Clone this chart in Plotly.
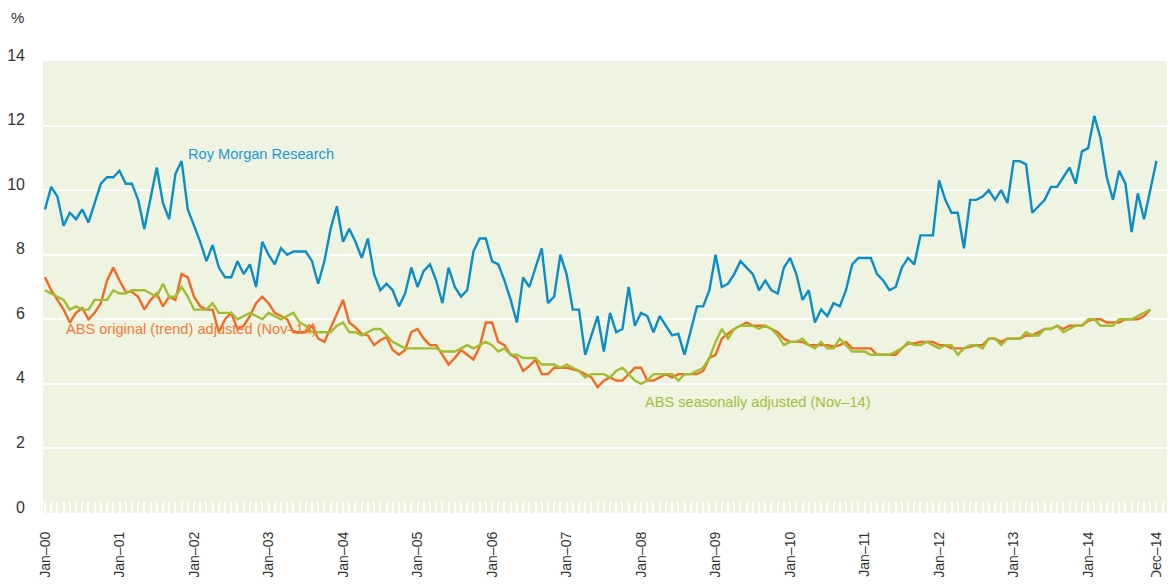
import plotly.graph_objects as go

# ---- data (monthly, Jan-2000 .. Dec-2014) ----
year_labels = ["Jan–00", "Jan–01", "Jan–02", "Jan–03", "Jan–04", "Jan–05", "Jan–06", "Jan–07",
               "Jan–08", "Jan–09", "Jan–10", "Jan–11", "Jan–12", "Jan–13", "Jan–14", "Dec–14"]
year_month_index = [0, 12, 24, 36, 48, 60, 72, 84, 96, 108, 120, 132, 144, 156, 168, 179]

roy_morgan = [
    9.4, 10.1, 9.8, 8.9, 9.3, 9.1, 9.4, 9.0, 9.6, 10.2, 10.4, 10.4,
    10.6, 10.2, 10.2, 9.7, 8.8, 9.7, 10.7, 9.6, 9.1, 10.5, 10.9, 9.4,
    8.9, 8.4, 7.8, 8.3, 7.6, 7.3, 7.3, 7.8, 7.4, 7.7, 7.0, 8.4,
    8.0, 7.7, 8.2, 8.0, 8.1, 8.1, 8.1, 7.8, 7.1, 7.8, 8.8, 9.5,
    8.4, 8.8, 8.4, 7.9, 8.5, 7.4, 6.9, 7.1, 6.9, 6.4, 6.8, 7.6,
    7.0, 7.5, 7.7, 7.2, 6.5, 7.6, 7.0, 6.7, 6.9, 8.1, 8.5, 8.5,
    7.8, 7.7, 7.2, 6.6, 5.9, 7.3, 7.0, 7.6, 8.2, 6.5, 6.7, 8.0,
    7.4, 6.3, 6.3, 4.9, 5.5, 6.1, 5.0, 6.2, 5.6, 5.7, 7.0, 5.8,
    6.2, 6.1, 5.6, 6.1, 5.8, 5.5, 5.55, 4.9, 5.65, 6.4, 6.4, 6.9,
    8.0, 7.0, 7.1, 7.4, 7.8, 7.6, 7.4, 6.9, 7.2, 6.9, 6.8, 7.6,
    7.9, 7.4, 6.6, 6.9, 5.9, 6.3, 6.1, 6.5, 6.4, 6.9, 7.7, 7.9,
    7.9, 7.9, 7.4, 7.2, 6.9, 7.0, 7.6, 7.9, 7.7, 8.6, 8.6, 8.6,
    10.3, 9.7, 9.3, 9.3, 8.2, 9.7, 9.7, 9.8, 10.0, 9.7, 10.0, 9.6,
    10.9, 10.9, 10.8, 9.3, 9.5, 9.7, 10.1, 10.1, 10.4, 10.7, 10.2, 11.2,
    11.3, 12.3, 11.6, 10.4, 9.7, 10.6, 10.2, 8.7, 9.9, 9.1, 10.0, 10.9,
]

abs_trend = [
    7.3, 6.9, 6.6, 6.3, 5.9, 6.2, 6.35, 6.0, 6.2, 6.5, 7.2, 7.6,
    7.2, 6.85, 6.85, 6.7, 6.3, 6.6, 6.8, 6.4, 6.7, 6.6, 7.4, 7.3,
    6.7, 6.4, 6.3, 6.3, 5.6, 6.0, 6.2, 5.7, 5.8, 6.1, 6.5, 6.7,
    6.5, 6.2, 6.1, 6.0, 5.6, 5.6, 5.6, 5.8, 5.4, 5.3, 5.75, 6.2,
    6.6, 5.9, 5.75, 5.55, 5.5, 5.2, 5.35, 5.45, 5.05, 4.9, 5.05, 5.6,
    5.7, 5.4, 5.2, 5.2, 4.9, 4.6, 4.8, 5.05, 4.9, 4.75, 5.15, 5.9,
    5.9, 5.3, 5.2, 4.9, 4.8, 4.4, 4.55, 4.75, 4.3, 4.3, 4.5, 4.5,
    4.5, 4.45, 4.4, 4.3, 4.2, 3.9, 4.1, 4.2, 4.1, 4.1, 4.3, 4.5,
    4.5, 4.1, 4.1, 4.2, 4.3, 4.2, 4.3, 4.3, 4.3, 4.3, 4.4, 4.8,
    4.9, 5.4, 5.55, 5.7, 5.8, 5.9, 5.8, 5.8, 5.8, 5.7, 5.6, 5.4,
    5.3, 5.3, 5.3, 5.2, 5.2, 5.2, 5.2, 5.15, 5.2, 5.3, 5.1, 5.1,
    5.1, 5.1, 4.9, 4.9, 4.9, 4.9, 5.1, 5.25, 5.25, 5.3, 5.3, 5.3,
    5.2, 5.2, 5.1, 5.1, 5.1, 5.15, 5.2, 5.2, 5.4, 5.4, 5.3, 5.4,
    5.4, 5.4, 5.5, 5.5, 5.6, 5.7, 5.7, 5.8, 5.7, 5.8, 5.8, 5.8,
    5.95, 6.0, 6.0, 5.9, 5.9, 5.9, 6.0, 6.0, 6.0, 6.1, 6.3,
]

abs_seasonal = [
    6.9, 6.8, 6.7, 6.6, 6.3, 6.4, 6.3, 6.3, 6.6, 6.6, 6.6, 6.9,
    6.8, 6.8, 6.9, 6.9, 6.9, 6.8, 6.7, 7.1, 6.7, 6.7, 7.0, 6.7,
    6.3, 6.3, 6.3, 6.5, 6.2, 6.2, 6.2, 6.0, 6.1, 6.2, 6.1, 6.0,
    6.2, 6.1, 6.0, 6.1, 6.2, 5.9, 5.8, 5.6, 5.6, 5.6, 5.6, 5.8,
    5.9, 5.6, 5.6, 5.5, 5.6, 5.7, 5.7, 5.5, 5.3, 5.2, 5.1, 5.1,
    5.1, 5.1, 5.1, 5.1, 5.0, 5.0, 5.0, 5.1, 5.2, 5.1, 5.2, 5.3,
    5.2, 5.0, 5.1, 4.9, 4.9, 4.8, 4.8, 4.8, 4.6, 4.6, 4.6, 4.5,
    4.6, 4.5, 4.4, 4.2, 4.3, 4.3, 4.3, 4.2, 4.4, 4.5, 4.3, 4.1,
    4.0, 4.1, 4.3, 4.3, 4.3, 4.3, 4.1, 4.3, 4.3, 4.4, 4.5, 4.8,
    5.3, 5.7, 5.4, 5.7, 5.8, 5.8, 5.8, 5.7, 5.8, 5.7, 5.5, 5.2,
    5.3, 5.3, 5.4, 5.2, 5.1, 5.3, 5.1, 5.1, 5.4, 5.2, 5.0, 5.0,
    5.0, 4.9, 4.9, 4.9, 4.9, 5.0, 5.1, 5.3, 5.2, 5.2, 5.3, 5.2,
    5.1, 5.2, 5.2, 4.9, 5.1, 5.2, 5.2, 5.1, 5.4, 5.4, 5.2, 5.4,
    5.4, 5.4, 5.6, 5.5, 5.5, 5.7, 5.7, 5.8, 5.6, 5.7, 5.8, 5.8,
    6.0, 6.0, 5.8, 5.8, 5.8, 6.0, 6.0, 6.0, 6.1, 6.2, 6.3,
]

y_ticks = [0, 2, 4, 6, 8, 10, 12, 14]

BLUE = "#0b8dc6"
ORANGE = "#f26a21"
GREEN = "#a2bd30"
FONT = "Liberation Sans, Arial, sans-serif"

fig = go.Figure()
fig.add_trace(go.Scatter(x=list(range(len(roy_morgan))), y=roy_morgan, mode="lines",
                         line=dict(color=BLUE, width=2.4), name="Roy Morgan Research"))
fig.add_trace(go.Scatter(x=list(range(len(abs_trend))), y=abs_trend, mode="lines",
                         line=dict(color=ORANGE, width=2.4), name="ABS original (trend) adjusted (Nov–14)"))
fig.add_trace(go.Scatter(x=list(range(len(abs_seasonal))), y=abs_seasonal, mode="lines",
                         line=dict(color=GREEN, width=2.4), name="ABS seasonally adjusted (Nov–14)"))

# the page body keeps its default 8px margin, so the figure is sized to fit inside the window
fig.update_layout(
    width=1159, height=569,
    margin=dict(l=35, r=0, t=53, b=64),
    paper_bgcolor="white",
    plot_bgcolor="#eff3e2",
    showlegend=False,
    font=dict(family=FONT, size=15, color="#333333"),
    xaxis=dict(
        range=[-0.32, 180.7],
        automargin=False,
        tickmode="array", tickvals=year_month_index, ticktext=year_labels,
        tickangle=-90,
        ticks="inside", ticklen=11, tickwidth=1.5, tickcolor="white",
        minor=dict(ticks="inside", dtick=1, tick0=0, ticklen=11, tickwidth=1.5, tickcolor="white"),
        showgrid=False, zeroline=False, showline=False,
        tickfont=dict(family=FONT, size=14, color="#333333"),
        ticklabelstandoff=15,
        ticklabeloverflow="allow",
    ),
    yaxis=dict(
        range=[0, 14],
        automargin=False,
        tickmode="array", tickvals=y_ticks,
        showgrid=True, gridcolor="white", gridwidth=2,
        zeroline=False, showline=False, ticks="",
        tickfont=dict(family=FONT, size=16, color="#333333"),
        ticklabelshift=-6, ticklabelstandoff=17,
    ),
)

fig.add_annotation(x=22.7, y=11.12, xref="x", yref="y", text="Roy Morgan Research",
                   showarrow=False, xanchor="left", yanchor="middle",
                   font=dict(family=FONT, size=14.6, color="#1899d3"))
fig.add_annotation(x=3.06, y=5.7, xref="x", yref="y", text="ABS original (trend) adjusted (Nov–14)",
                   showarrow=False, xanchor="left", yanchor="middle",
                   font=dict(family=FONT, size=14.6, color="#f47a35"))
fig.add_annotation(x=96.3, y=3.44, xref="x", yref="y", text="ABS seasonally adjusted (Nov–14)",
                   showarrow=False, xanchor="left", yanchor="middle",
                   font=dict(family=FONT, size=14.6, color="#a3bf36"))
fig.add_annotation(x=-0.023, y=1.097, xref="paper", yref="paper", text="%",
                   showarrow=False, xanchor="center", yanchor="middle",
                   font=dict(family=FONT, size=15, color="#333333"))

fig.write_html("out.html")
